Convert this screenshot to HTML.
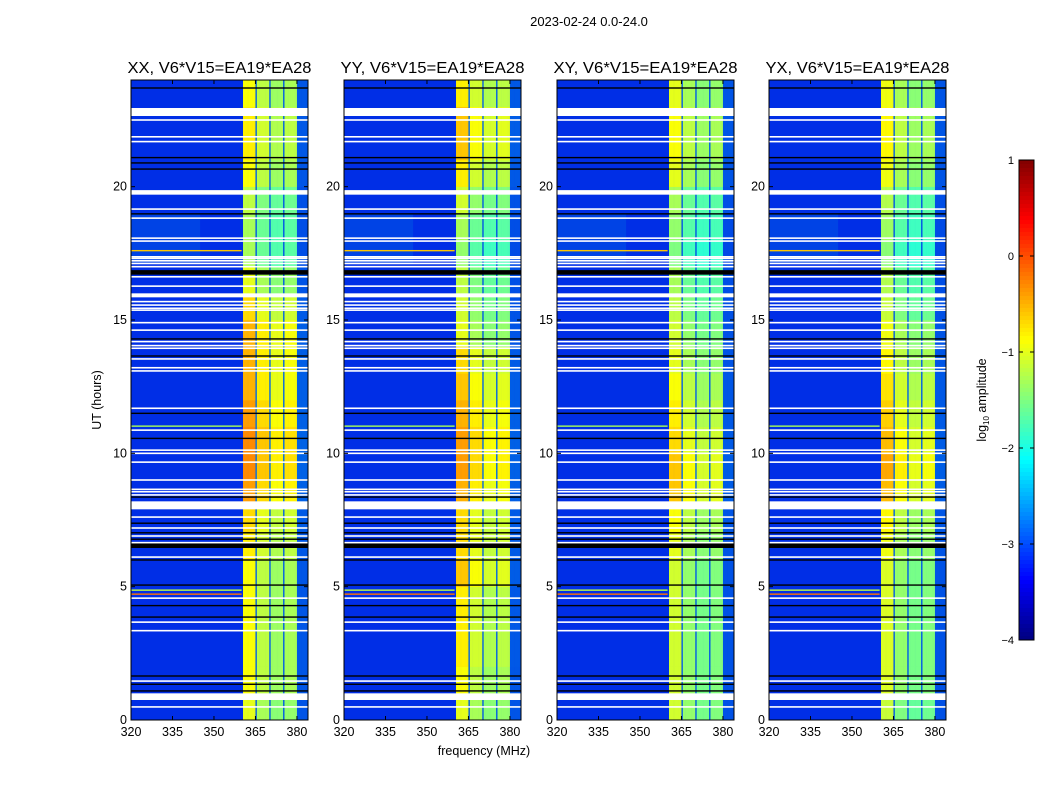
<!DOCTYPE html>
<html><head><meta charset="utf-8">
<style>
html,body{margin:0;padding:0;background:#fff;}
svg{display:block;font-family:"Liberation Sans","DejaVu Sans",sans-serif;}
</style></head>
<body>
<svg id="chart" width="1050" height="800" viewBox="0 0 1050 800" xmlns="http://www.w3.org/2000/svg">
<text x="589" y="26" font-size="13" text-anchor="middle">2023-02-24 0.0-24.0</text>
<text x="484" y="755" font-size="12.5" text-anchor="middle">frequency (MHz)</text>
<text x="101" y="400" font-size="12.5" text-anchor="middle" transform="rotate(-90 101 400)">UT (hours)</text>
<g id="panels"></g>
<g id="cbar"></g>
</svg>
<script>
// ---- data ----
const panelTitles = ["XX, V6*V15=EA19*EA28","YY, V6*V15=EA19*EA28","XY, V6*V15=EA19*EA28","YX, V6*V15=EA19*EA28"];
const xTicks = [320,335,350,365,380];
const yTicks = [0,5,10,15,20];
const cbarTicks = [1,0,-1,-2,-3,-4];
const freqStart = 320, freqEnd = 384, nChan = 128;
// channel weight of band signal per 0.5 MHz channel (0 = background, 1 = full band)
const chanWeight = [
  0,0,0,0,0,0,0,0,0,0, 0,0,0,0,0,0,0,0,0,0, 0,0,0,0,0,0,0,0,0,0, 0,0,0,0,0,0,0,0,0,0,
  0,0,0,0,0,0,0,0,0,0, 0,0,0,0,0,0,0,0,0,0, 0,0,0,0,0,0,0,0,0,0, 0,0,0,0,0,0,0,0,0,0,
  0, 1,1,1,1,1,1,1,1,1, 0.12, 1,1,1,1,1,1,1,1,1, 0.12, 0.92,0.92,0.92,0.92,0.92,0.92,0.92,0.92,0.92,
  0.12, 0.95,0.95,0.95,0.95,0.95,0.95,0.95,0.95,0.95, 0.1,0.1,0.1,0.1,0.1,0.1,0.1,0.1];
const firstSeg = [81,82,83,84,85,86,87,88,89];
const bgLevel = -3.15;
// hourly band level (log10 amplitude) per panel
const bandXX = [-1.3,-1.2,-1.2,-1.2,-1.2,-1.2,-1.1,-1.0,-0.7,-0.6,-0.6,-0.7,-0.8,-0.8,-0.8,-1.0,-1.3,-1.6,-1.6,-1.5,-1.2,-1.1,-1.1,-1.2];
const bandYY = [-1.3,-1.2,-1.1,-1.1,-1.1,-0.9,-1.0,-1.0,-0.8,-0.7,-0.7,-0.8,-0.9,-1.0,-1.3,-1.4,-1.5,-1.7,-1.6,-1.4,-1.1,-0.9,-0.9,-1.1];
const bandXY = [-1.4,-1.4,-1.4,-1.4,-1.4,-1.4,-1.3,-1.2,-0.9,-0.9,-1.0,-1.1,-1.2,-1.3,-1.4,-1.5,-1.6,-1.8,-1.7,-1.6,-1.3,-1.2,-1.2,-1.3];
const bandYX = [-1.5,-1.4,-1.4,-1.4,-1.4,-1.4,-1.3,-1.2,-0.9,-0.8,-0.9,-1.0,-1.1,-1.2,-1.3,-1.5,-1.6,-1.8,-1.7,-1.6,-1.3,-1.2,-1.2,-1.3];
const firstSegBoost = [0.3,0.3,0.3,0.35];
// lighter background patch (hours 17-19, 320-345 MHz)
const patchHours = [17.1,19.0];
const patchFreqs = [320,345];
const patchLevel = -2.8;
// flagged intervals (hours) drawn white
const whiteBands = [[22.65,22.95],[19.7,19.87],[15.85,16.0],[7.9,8.2],[0.75,1.0]];
const blackBands = [[16.7,16.87],[6.45,6.62]];
const whiteLines = [22.5,21.87,21.69,19.16,18.82,18.07,17.96,17.37,17.31,17.22,17.12,17.0,16.62,16.27,15.69,15.56,15.44,15.37,14.9,14.62,14.19,14.04,13.94,13.54,13.21,13.09,11.69,10.87,10.12,10.0,9.67,9.0,8.65,8.56,8.44,7.61,7.2,6.9,6.65,6.11,4.57,3.67,3.35,1.46,0.49];
const blackLines = [23.7,21.09,20.89,20.66,18.98,14.29,13.65,11.5,10.56,8.36,7.38,7.02,6.78,6.0,5.06,4.29,3.86,1.65,1.34,1.09];
const rfiHours = [17.6,11.02,4.87,4.72];
const rfiLevels = [-0.6,-1.3,-1.2,-0.2];

// ---- layout ----
const panelX = [131,344,557,769];
const pW = 177, pTop = 80, pH = 640;
const NS = "http://www.w3.org/2000/svg";
function jet(v){ // v in [-4,1]
  let x=(v+4)/5; x=Math.max(0,Math.min(1,x));
  const c=t=>Math.round(255*Math.max(0,Math.min(1,t)));
  return `rgb(${c(1.5-Math.abs(4*x-3))},${c(1.5-Math.abs(4*x-2))},${c(Math.min(0.9,1.5-Math.abs(4*x-1)))})`;
}
function mk(tag,attrs,parent){const e=document.createElementNS(NS,tag);for(const k in attrs)e.setAttribute(k,attrs[k]);parent.appendChild(e);return e;}
const bands=[bandXX,bandYY,bandXY,bandYX];
const chW=(freqEnd-freqStart)/nChan;
const panelsG=document.getElementById('panels');
panelTitles.forEach((title,p)=>{
  const x0=panelX[p];
  const xs=f=>x0+(f-freqStart)/(freqEnd-freqStart)*pW;
  const ys=h=>pTop+pH-h/24*pH;
  const g=mk('g',{},panelsG);
  
  
  const band=bands[p];
  const bg=mk('rect',{x:x0,y:pTop,width:pW,height:pH,fill:jet(bgLevel)},g);
  
  
  const pr=mk('rect',{x:xs(patchFreqs[0]),y:ys(patchHours[1]),width:xs(patchFreqs[1])-xs(patchFreqs[0]),height:ys(patchHours[0])-ys(patchHours[1]),fill:jet(patchLevel),opacity:0.3},g);
  
  
  for(let h=0;h<24;h++){
    for(let c=0;c<nChan;c++){
      if(chanWeight[c]===0) continue;
      let v=bgLevel+chanWeight[c]*(band[h]-bgLevel);
      if(firstSeg.includes(c)) v+=firstSegBoost[p];
      const x1=xs(freqStart+c*chW), x2=xs(freqStart+(c+1)*chW);
      const r=mk('rect',{x:x1.toFixed(2),y:ys(h+1).toFixed(2),width:(x2-x1+0.3).toFixed(2),height:(ys(h)-ys(h+1)+0.3).toFixed(2),fill:jet(v)},g);
      
      
    }
  }
  rfiHours.forEach((h,i)=>{
    const r=mk('rect',{x:x0,y:ys(h)-0.7,width:xs(360)-x0,height:1.4,fill:jet(rfiLevels[i])},g);
    
    
  });
  whiteLines.forEach(h=>{const r=mk('rect',{x:x0,y:ys(h)-0.8,width:pW,height:1.6,fill:'#fff'},g);
    });
  blackLines.forEach(h=>{const r=mk('rect',{x:x0,y:ys(h)-0.7,width:pW,height:1.4,fill:'#000'},g);
    });
  whiteBands.forEach(b=>{const r=mk('rect',{x:x0,y:ys(b[1]),width:pW,height:ys(b[0])-ys(b[1]),fill:'#fff'},g);
    });
  blackBands.forEach(b=>{const r=mk('rect',{x:x0,y:ys(b[1]),width:pW,height:ys(b[0])-ys(b[1]),fill:'#000'},g);
    });
  const fr=mk('rect',{x:x0,y:pTop,width:pW,height:pH,fill:'none',stroke:'#000','stroke-width':1},g);
  
  const t=mk('text',{x:x0+pW/2,y:pTop-7,'font-size':16,'text-anchor':'middle',textLength:184,lengthAdjust:'spacingAndGlyphs'},g);
  t.textContent=title;
  
  xTicks.forEach(f=>{
    const x=xs(f);
    mk('line',{x1:x,x2:x,y1:pTop+pH,y2:pTop+pH-4,stroke:'#000'},g);
    mk('line',{x1:x,x2:x,y1:pTop,y2:pTop+4,stroke:'#000'},g);
    const l=mk('text',{x:x,y:pTop+pH+16,'font-size':12.5,'text-anchor':'middle'},g);
    l.textContent=f;
    
  });
  yTicks.forEach(h=>{
    const y=ys(h);
    mk('line',{x1:x0,x2:x0+4,y1:y,y2:y,stroke:'#000'},g);
    mk('line',{x1:x0+pW,x2:x0+pW-4,y1:y,y2:y,stroke:'#000'},g);
    const l=mk('text',{x:x0-4,y:y+4,'font-size':12.5,'text-anchor':'end'},g);
    l.textContent=h;
    
  });
});
// colorbar
const cb=document.getElementById('cbar');
const cbX=1019,cbW=15,cbTop=160,cbH=480;
const cy=v=>cbTop+(1-v)/5*cbH;
function jetFull(v){let x=(v+4)/5;x=Math.max(0,Math.min(1,x));const c=t=>Math.round(255*Math.max(0,Math.min(1,t)));
  return `rgb(${c(1.5-Math.abs(4*x-3))},${c(1.5-Math.abs(4*x-2))},${c(1.5-Math.abs(4*x-1))})`;}
for(let i=0;i<120;i++){
  const v=1-i*5/120;
  const r=mk('rect',{x:cbX,y:(cbTop+i*cbH/120).toFixed(2),width:cbW,height:(cbH/120+0.5).toFixed(2),fill:jetFull(v-5/240)},cb);
  
}
mk('rect',{x:cbX,y:cbTop,width:cbW,height:cbH,fill:'none',stroke:'#000'},cb);
cbarTicks.forEach(v=>{
  const y=cy(v);
  mk('line',{x1:cbX,x2:cbX+4,y1:y,y2:y,stroke:'#000'},cb);
  mk('line',{x1:cbX+cbW,x2:cbX+cbW-4,y1:y,y2:y,stroke:'#000'},cb);
  const l=mk('text',{x:cbX-5,y:y+4,'font-size':11,'text-anchor':'end'},cb);
  l.textContent=v<0?'\u2212'+(-v):String(v);
  
});
const lab=mk('text',{x:986,y:400,'font-size':12.5,'text-anchor':'middle',transform:'rotate(-90 986 400)'},cb);
lab.innerHTML='log<tspan font-size="8" dy="3">10</tspan><tspan dy="-3"> amplitude</tspan>';

</script>
</body></html>
